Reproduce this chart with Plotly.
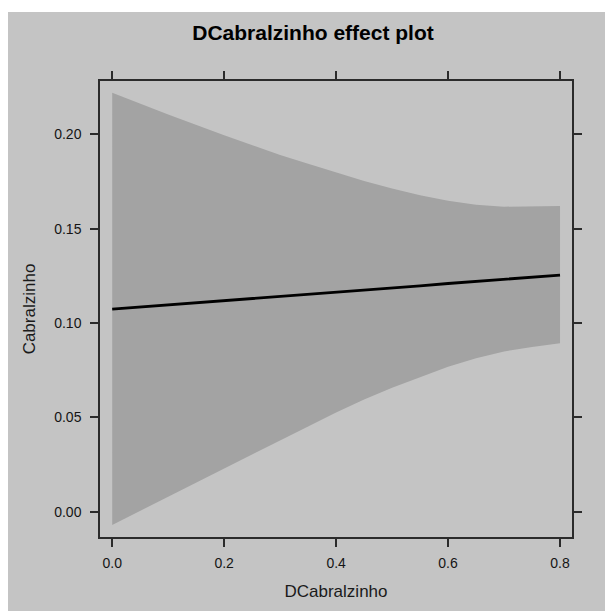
import plotly.graph_objects as go

# ---- data ----
x_vals = [0.0, 0.1, 0.2, 0.3, 0.35, 0.4, 0.45, 0.5, 0.55, 0.6, 0.65, 0.7, 0.75, 0.8]
fit = [0.1073, 0.1095, 0.1117, 0.1140, 0.1151, 0.1163, 0.1174, 0.1186, 0.1197, 0.1209, 0.1220, 0.1232, 0.1243, 0.1254]
upper = [0.222, 0.2105, 0.1995, 0.189, 0.1843, 0.1797, 0.1752, 0.1713, 0.1677, 0.1648, 0.1627, 0.1616, 0.1617, 0.162]
lower = [-0.007, 0.008, 0.0228, 0.0377, 0.0452, 0.0526, 0.0595, 0.0657, 0.0713, 0.0768, 0.0813, 0.0849, 0.0873, 0.0892]

x_ticks = [0.0, 0.2, 0.4, 0.6, 0.8]
x_tick_labels = ["0.0", "0.2", "0.4", "0.6", "0.8"]
y_ticks = [0.00, 0.05, 0.10, 0.15, 0.20]
y_tick_labels = ["0.00", "0.05", "0.10", "0.15", "0.20"]

title_text = "DCabralzinho effect plot"
x_title = "DCabralzinho"
y_title = "Cabralzinho"

# ---- layout geometry ----
W, H = 605, 611
ML, MR, MT, MB = 100, 33, 81, 74
PW, PH = W - ML - MR, H - MT - MB

BG = "#c4c4c4"
BAND = "#a3a3a3"
AX = "#2b2b2b"
FONT = "Liberation Sans, Arial, sans-serif"

fig = go.Figure()

fig.add_trace(go.Scatter(
    x=x_vals + x_vals[::-1],
    y=upper + lower[::-1],
    fill="toself", fillcolor=BAND,
    line=dict(width=0), mode="lines",
    hoverinfo="skip", showlegend=False,
))
fig.add_trace(go.Scatter(
    x=x_vals, y=fit, mode="lines",
    line=dict(color="black", width=2.8),
    showlegend=False,
))

# gray panel with thin white border at top and left
fig.add_shape(
    type="rect", xref="paper", yref="paper",
    x0=(8 - ML) / PW, x1=(W - ML) / PW + 0.01,
    y0=-(MB + 2) / PH, y1=(PH + MT - 12) / PH,
    fillcolor=BG, line=dict(width=0), layer="below",
)

axis_common = dict(
    showline=True, linecolor=AX, linewidth=1.5, mirror="ticks",
    ticks="outside", ticklen=8, tickwidth=1.5, tickcolor=AX,
    showgrid=False, zeroline=False,
    tickfont=dict(family=FONT, size=14, color="#151515"),
)

fig.update_layout(
    width=W, height=H,
    margin=dict(l=ML, r=MR, t=MT, b=MB),
    paper_bgcolor="white",
    plot_bgcolor="rgba(0,0,0,0)",
    title=dict(
        text="<b>" + title_text + "</b>",
        font=dict(family=FONT, size=21, color="black"),
        xref="container", x=313 / W, xanchor="center",
        yref="container", y=1 - 33 / H, yanchor="middle",
    ),
    xaxis=dict(
        range=[-0.0218, 0.8214],
        tickvals=x_ticks, ticktext=x_tick_labels,
        title=dict(text=x_title, font=dict(family=FONT, size=17, color="#1a1a1a"), standoff=16),
        ticklabelstandoff=4,
        **axis_common,
    ),
    yaxis=dict(
        range=[-0.0134, 0.2282],
        tickvals=y_ticks, ticktext=y_tick_labels,
        title=dict(text=y_title, font=dict(family=FONT, size=17, color="#1a1a1a"), standoff=14),
        ticklabelstandoff=6,
        **axis_common,
    ),
)

fig.write_html("out.html")
